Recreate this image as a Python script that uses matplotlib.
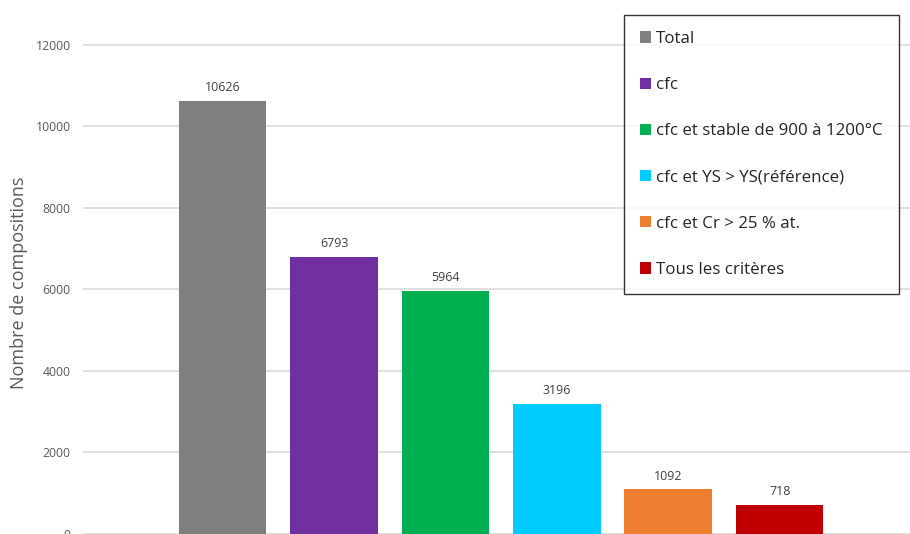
import matplotlib
matplotlib.use("Agg")
import matplotlib.pyplot as plt
from matplotlib.patches import Patch

plt.rcParams['font.family'] = ['Open Sans', 'DejaVu Sans']

categories = ["Total", "cfc", "cfc et stable de 900 à 1200°C",
              "cfc et YS > YS(référence)", "cfc et Cr > 25 % at.", "Tous les critères"]
values = [10626, 6793, 5964, 3196, 1092, 718]
colors = ["#7f7f7f", "#7030a0", "#00b050", "#00ccff", "#ed7d31", "#c00000"]
yticks = [0, 2000, 4000, 6000, 8000, 10000, 12000]

W, H = 910, 534
fig = plt.figure(figsize=(W/100, H/100), dpi=100)
ax = fig.add_axes([83/W, 0, 1 - 83/W, 1])

x = list(range(len(values)))
bars = ax.bar(x, values, width=0.786, color=colors, zorder=3)
for xi, v in zip(x, values):
    ax.annotate(str(v), (xi, v), xytext=(0, 5), textcoords="offset points",
                ha="center", va="bottom", fontsize=8.9, color="#404040")

ax.set_xlim(-1.254, 6.17)
ax.set_ylim(0, 13100)
ax.set_yticks(yticks)
ax.set_yticklabels([str(t) for t in yticks], fontsize=8.8, color="#595959")
ax.set_xticks([])
ax.tick_params(axis='y', length=0, pad=9)
ax.grid(axis='y', color="#d9d9d9", linewidth=1.2, zorder=0)
for s in ax.spines.values():
    s.set_visible(False)

fig.text(19/W, 1 - 283/H, "Nombre de compositions", rotation=90,
         ha="center", va="center", fontsize=13, color="#595959")

handles = [Patch(facecolor=c, edgecolor="none") for c in colors]
leg = fig.legend(handles, categories, loc="upper left",
                 bbox_to_anchor=(624/W, 1 - 15/H), fontsize=12.2,
                 frameon=True, fancybox=False, edgecolor="black",
                 handlelength=0.65, handleheight=0.65, handletextpad=0.3,
                 labelspacing=1.78, borderpad=0.95, borderaxespad=0)
leg.get_frame().set_linewidth(1.0)
for t in leg.get_texts():
    t.set_color("#262626")

fig.savefig("out.png", dpi=100)
